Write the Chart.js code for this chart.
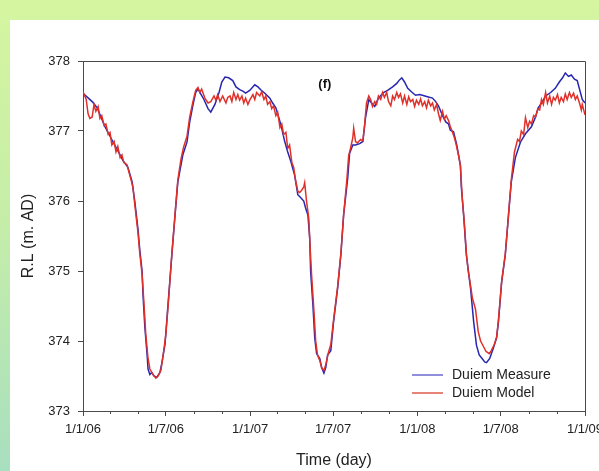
<!DOCTYPE html>
<html>
<head>
<meta charset="utf-8">
<script src="https://cdn.jsdelivr.net/npm/chart.js@4.4.0/dist/chart.umd.min.js"></script>
<style>
  html, body { margin: 0; padding: 0; width: 599px; height: 471px; overflow: hidden;
    background: linear-gradient(to bottom, #d5f5a0 0%, #c6eea8 45%, #a8dfbf 100%); }
  #panel { position: absolute; left: 10px; top: 20px; width: 610px; height: 451px; background: #fff; }
</style>
</head>
<body>
<div id="panel"><canvas id="myChart" width="610" height="451"></canvas></div>
<script>
// days counted from 1/1/06
var tickDays = [0, 181, 365, 546, 730, 912, 1096];
var tickLabels = ["1/1/06", "1/7/06", "1/1/07", "1/7/07", "1/1/08", "1/7/08", "1/1/09"];
var minorDays = [59, 120, 243, 304, 424, 485, 608, 669, 790, 851, 974, 1035];
var yTicks = [373, 374, 375, 376, 377, 378];

var measureDays = [
  0,20,31,48,65,76,87,98,107,113,
  120,124,129,131,135,140,142,146,150,155,
  161,168,172,179,185,194,201,207,218,227,
  233,240,246,251,257,264,273,279,288,297,
  303,310,318,327,334,342,349,355,364,375,
  382,388,397,408,414,421,427,432,440,447,
  454,462,469,475,482,486,491,495,497,502,
  506,510,517,521,526,530,534,541,547,556,
  563,569,578,582,589,595,604,611,617,624,
  630,637,645,656,665,676,685,691,696,702,
  709,717,726,735,741,752,763,770,776,785,
  792,798,802,809,816,824,826,831,837,846,
  853,859,865,870,877,881,888,896,903,907,
  914,922,929,935,944,955,966,979,988,994,
  1003,1010,1021,1031,1040,1047,1053,1060,1066,1073,
  1079,1086,1090,1096];
var measureVals = [
  377.54,377.42,377.33,377.06,376.85,376.72,376.58,376.48,376.28,376.0,
  375.6,375.3,375.0,374.66,374.2,373.8,373.6,373.52,373.55,373.5,
  373.48,373.55,373.68,373.95,374.47,375.23,375.8,376.27,376.66,376.84,
  377.13,377.37,377.55,377.6,377.53,377.45,377.32,377.27,377.38,377.55,
  377.7,377.77,377.76,377.72,377.63,377.59,377.57,377.54,377.58,377.66,
  377.63,377.59,377.54,377.47,377.4,377.33,377.2,377.09,376.86,376.7,
  376.56,376.37,376.09,376.05,376.0,375.9,375.8,375.47,374.99,374.51,
  374.04,373.82,373.75,373.62,373.54,373.62,373.8,373.86,374.27,374.76,
  375.23,375.8,376.33,376.68,376.8,376.8,376.82,376.85,377.2,377.45,
  377.4,377.35,377.47,377.55,377.58,377.63,377.68,377.73,377.76,377.7,
  377.61,377.56,377.51,377.52,377.51,377.49,377.47,377.42,377.36,377.22,
  377.13,377.1,377.01,376.99,376.8,376.51,376.2,375.8,375.23,374.76,
  374.27,373.94,373.8,373.76,373.7,373.69,373.75,373.9,374.05,374.27,
  374.84,375.23,375.8,376.27,376.62,376.84,376.96,377.06,377.2,377.33,
  377.42,377.5,377.55,377.61,377.7,377.76,377.83,377.78,377.8,377.74,
  377.72,377.55,377.45,377.4];

var modelDays = [
  0,7,11,15,20,24,28,33,37,41,
  46,50,55,59,63,68,72,76,81,85,
  89,96,100,105,109,113,120,124,129,133,
  137,142,146,153,159,164,170,174,181,187,
  194,201,207,214,220,227,233,240,246,251,
  255,259,266,273,279,286,290,294,299,305,
  312,316,321,325,329,334,338,342,347,351,
  355,360,364,371,375,379,386,390,395,399,
  403,408,412,416,421,425,430,434,438,443,
  447,451,456,460,464,469,473,477,482,484,
  488,493,495,499,504,508,512,517,521,526,
  530,536,541,547,556,563,569,576,580,584,
  589,591,595,599,606,611,615,619,624,628,
  632,637,641,645,650,654,658,663,667,672,
  676,680,685,689,693,698,702,707,711,715,
  720,724,728,733,737,741,746,750,754,759,
  763,767,772,776,780,785,789,793,798,802,
  807,811,815,820,824,828,833,837,841,846,
  850,857,863,868,876,880,887,891,898,903,
  907,914,922,929,935,942,949,953,957,962,
  966,971,975,979,984,988,993,997,1001,1005,
  1010,1014,1019,1023,1027,1031,1036,1040,1044,1049,
  1053,1057,1062,1066,1071,1075,1079,1084,1088,1090,
  1096];
var modelVals = [
  377.56,377.45,377.25,377.18,377.2,377.38,377.28,377.35,377.18,377.22,
  377.08,377.1,376.95,376.98,376.8,376.85,376.7,376.78,376.62,376.66,
  376.55,376.52,376.42,376.3,376.2,375.95,375.55,375.25,374.95,374.55,
  374.1,373.75,373.6,373.52,373.47,373.5,373.58,373.75,374.1,374.6,
  375.25,375.82,376.3,376.6,376.78,376.92,377.2,377.42,377.58,377.62,
  377.55,377.6,377.47,377.4,377.42,377.5,377.44,377.52,377.42,377.5,
  377.4,377.48,377.5,377.42,377.55,377.45,377.52,377.44,377.5,377.4,
  377.47,377.38,377.44,377.52,377.45,377.55,377.5,377.56,377.45,377.5,
  377.38,377.42,377.32,377.36,377.22,377.27,377.05,377.1,376.95,376.98,
  376.75,376.8,376.55,376.48,376.3,376.14,376.12,376.15,376.2,376.26,
  376.0,375.75,375.45,374.95,374.45,374.0,373.8,373.72,373.62,373.58,
  373.66,373.84,373.95,374.3,374.78,375.25,375.8,376.3,376.65,376.75,
  376.9,377.04,376.85,376.83,376.88,376.86,377.1,377.4,377.5,377.45,
  377.35,377.42,377.38,377.5,377.45,377.55,377.48,377.55,377.42,377.36,
  377.5,377.45,377.55,377.48,377.53,377.4,377.5,377.38,377.49,377.42,
  377.45,377.35,377.44,377.38,377.46,377.36,377.42,377.33,377.44,377.36,
  377.4,377.3,377.38,377.25,377.15,377.28,377.17,377.22,377.15,377.06,
  376.98,376.9,376.8,376.65,376.5,376.05,375.65,375.25,375.0,374.8,
  374.62,374.45,374.13,374.0,373.9,373.85,373.82,373.86,373.95,374.05,
  374.3,374.85,375.25,375.8,376.3,376.7,376.88,376.85,377.0,376.95,
  377.19,377.05,377.14,377.1,377.22,377.2,377.32,377.3,377.45,377.38,
  377.55,377.4,377.5,377.38,377.48,377.44,377.52,377.4,377.48,377.42,
  377.53,377.45,377.55,377.48,377.54,377.45,377.5,377.4,377.3,377.38,
  377.23];

var FONT = "'Liberation Sans', Arial, sans-serif";
var AXIS = '#4a4a4a';

function toPoints(days, vals) {
  return days.map(function (d, i) { return { x: d, y: vals[i] }; });
}

// khung, vạch phụ, chú thích và nhãn (f)
var extras = {
  id: 'extras',
  afterDraw: function (chart) {
    var c = chart.ctx, a = chart.chartArea, xs = chart.scales.x;
    c.save();
    c.strokeStyle = AXIS;
    c.lineWidth = 1;
    c.beginPath();
    c.moveTo(a.left, a.top + 0.5); c.lineTo(a.right + 0.5, a.top + 0.5);
    c.lineTo(a.right + 0.5, a.bottom);
    minorDays.forEach(function (d) {
      var px = Math.round(xs.getPixelForValue(d)) + 0.5;
      c.moveTo(px, a.bottom); c.lineTo(px, a.bottom + 3);
    });
    c.stroke();

    c.fillStyle = '#111';
    c.font = 'bold 13px ' + FONT;
    c.textAlign = 'center';
    c.textBaseline = 'middle';
    c.fillText('(f)', xs.getPixelForValue(528), a.top + 23);

    var lx = 402, ly = 355;
    c.font = '14px ' + FONT;
    c.textAlign = 'left';
    chart.data.datasets.forEach(function (ds, i) {
      var y = ly + i * 18;
      c.strokeStyle = ds.legendColor;
      c.lineWidth = 1.5;
      c.beginPath(); c.moveTo(lx, y); c.lineTo(lx + 31, y); c.stroke();
      c.fillStyle = '#222';
      c.fillText(ds.label, lx + 40, y);
    });
    c.restore();
  }
};

var ctx = document.getElementById('myChart').getContext('2d');
var myChart = new Chart(ctx, {
  type: 'line',
  data: {
    datasets: [{
      label: 'Duiem Measure',
      data: toPoints(measureDays, measureVals),
      borderColor: '#2626b0',
      legendColor: '#6a6ad0',
      borderWidth: 1.5,
      pointRadius: 0,
      order: 2
    }, {
      label: 'Duiem Model',
      data: toPoints(modelDays, modelVals),
      borderColor: '#e0302a',
      legendColor: '#e05a4a',
      borderWidth: 1.5,
      pointRadius: 0,
      order: 1
    }]
  },
  options: {
    responsive: false,
    animation: false,
    layout: { padding: { top: 41, right: 35, left: 0, bottom: 0 } },
    plugins: { legend: { display: false }, tooltip: { enabled: false } },
    scales: {
      x: {
        type: 'linear',
        min: 0,
        max: 1096,
        afterFit: function (s) { s.height = 60; },
        afterBuildTicks: function (s) { s.ticks = tickDays.map(function (v) { return { value: v }; }); },
        grid: { drawOnChartArea: false, drawTicks: true, tickLength: 5, color: AXIS },
        border: { color: AXIS },
        ticks: {
          autoSkip: false, maxRotation: 0, padding: 6, color: '#222',
          font: { family: FONT, size: 13 },
          callback: function (v) { return tickLabels[tickDays.indexOf(v)]; }
        },
        title: { display: true, text: 'Time (day)', color: '#222', font: { family: FONT, size: 16 }, padding: { bottom: 1 } }
      },
      y: {
        min: 373,
        max: 378,
        afterFit: function (s) { s.width = 73; },
        afterBuildTicks: function (s) { s.ticks = yTicks.map(function (v) { return { value: v }; }); },
        grid: { drawOnChartArea: false, drawTicks: true, tickLength: 5, color: AXIS },
        border: { color: AXIS },
        ticks: { padding: 8, color: '#222', font: { family: FONT, size: 13 } },
        title: { display: true, text: 'R.L (m. AD)', color: '#222', font: { family: FONT, size: 16 }, padding: { top: 9 } }
      }
    }
  },
  plugins: [extras]
});
</script>
</body>
</html>
